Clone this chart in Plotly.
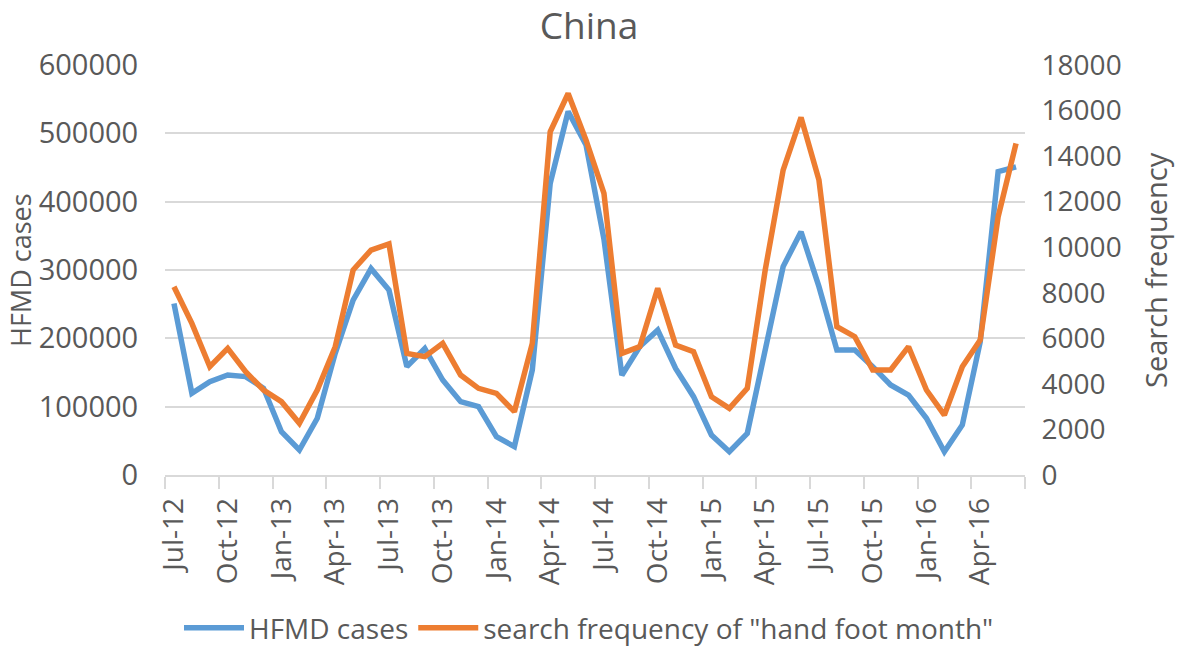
import plotly.graph_objects as go

months = ["Jul-12", "Aug-12", "Sep-12", "Oct-12", "Nov-12", "Dec-12",
          "Jan-13", "Feb-13", "Mar-13", "Apr-13", "May-13", "Jun-13",
          "Jul-13", "Aug-13", "Sep-13", "Oct-13", "Nov-13", "Dec-13",
          "Jan-14", "Feb-14", "Mar-14", "Apr-14", "May-14", "Jun-14",
          "Jul-14", "Aug-14", "Sep-14", "Oct-14", "Nov-14", "Dec-14",
          "Jan-15", "Feb-15", "Mar-15", "Apr-15", "May-15", "Jun-15",
          "Jul-15", "Aug-15", "Sep-15", "Oct-15", "Nov-15", "Dec-15",
          "Jan-16", "Feb-16", "Mar-16", "Apr-16", "May-16", "Jun-16"]

hfmd_cases = [251000, 119500, 136600, 146300, 144000, 127000, 63400, 36600, 83000, 178000, 256000, 302000,
              270700, 158500, 185000, 139000, 107300, 100000, 56100, 41500, 153700, 427000, 532000, 483000,
              345000, 146000, 188000, 212000, 156000, 114600, 58500, 34100, 61000, 187800, 305000, 356000,
              275600, 183000, 183000, 158500, 131700, 117000, 83000, 34100, 73200, 195000, 444000, 451000]

search_freq = [8266, 6657, 4755, 5560, 4535, 3730, 3219, 2268, 3730, 5633, 9000, 9875,
               10150, 5340, 5194, 5779, 4389, 3804, 3584, 2780, 5779, 15070, 16750, 14700,
               12362, 5340, 5633, 8193, 5706, 5413, 3438, 2926, 3804, 8997, 13386, 15700,
               12948, 6510, 6071, 4608, 4608, 5633, 3731, 2633, 4755, 5925, 11338, 14557]

label_months = months[::3]

FONT = "Open Sans"
TXT = "#595959"
GRID = "#D9D9D9"

x_idx = list(range(len(months)))
label_idx = x_idx[::3]
boundary_idx = [i - 0.5 for i in x_idx[::3]] + [len(months) - 0.5]

W, H = 1178, 648
ML, MR, MT, MB = 165, 153, 65, 173
PW = W - ML - MR

fig = go.Figure()
fig.add_trace(go.Scatter(x=x_idx, y=hfmd_cases, mode="lines", name="HFMD cases",
                         line=dict(color="#5B9BD5", width=5.5), yaxis="y"))
fig.add_trace(go.Scatter(x=x_idx, y=search_freq, mode="lines",
                         name='search frequency of "hand foot month"',
                         line=dict(color="#ED7D31", width=5.5), yaxis="y2"))

fig.update_layout(
    width=W, height=H,
    margin=dict(l=ML, r=MR, t=MT, b=MB),
    paper_bgcolor="white", plot_bgcolor="white",
    font=dict(family=FONT, color=TXT, size=28),
    title=dict(text="China", x=0.5, xref="container", xanchor="center",
               y=1 - 26 / H, yref="container", yanchor="middle",
               font=dict(size=37, color=TXT, family=FONT)),
    xaxis=dict(range=[-0.5, len(months) - 0.5], tickmode="array",
               tickvals=label_idx, ticktext=label_months, tickangle=-90,
               ticks="outside", ticklen=10, tickcolor="rgba(0,0,0,0)",
               showgrid=False, zeroline=False,
               showline=True, linecolor=GRID, linewidth=1.5,
               tickfont=dict(size=28, color=TXT),
               minor=dict(tickmode="array", tickvals=boundary_idx, ticks="outside",
                          ticklen=12, tickcolor=GRID, tickwidth=1.5, showgrid=False)),
    yaxis=dict(range=[0, 600000], dtick=100000, tickformat="d",
               showgrid=True, gridcolor=GRID, gridwidth=1.5,
               zeroline=False, showline=False,
               ticks="outside", ticklen=20, tickcolor="rgba(0,0,0,0)",
               tickfont=dict(size=29, color=TXT)),
    yaxis2=dict(range=[0, 18000], dtick=2000, tickformat="d", overlaying="y", side="right",
                showgrid=False, zeroline=False, showline=False,
                ticks="outside", ticklen=10, tickcolor="rgba(0,0,0,0)",
                tickfont=dict(size=28, color=TXT)),
    legend=dict(orientation="h", x=0.5, xref="container", xanchor="center",
                y=1 - 628 / H, yref="container", yanchor="middle",
                font=dict(size=28, color=TXT), itemwidth=60, tracegroupgap=0),
    showlegend=True,
    annotations=[
        dict(text="HFMD cases", textangle=-90, xref="paper", yref="paper",
             x=(20 - ML) / PW, y=0.5, xanchor="center", yanchor="middle",
             showarrow=False, font=dict(size=27, color=TXT)),
        dict(text="Search frequency", textangle=-90, xref="paper", yref="paper",
             x=(1155 - ML) / PW, y=0.5, xanchor="center", yanchor="middle",
             showarrow=False, font=dict(size=29, color=TXT)),
    ],
)

# remove the browser's default body margin so the figure fills the window exactly
fig.write_html("out.html", post_script="document.body.style.margin='0';",
               config={"displayModeBar": False})
